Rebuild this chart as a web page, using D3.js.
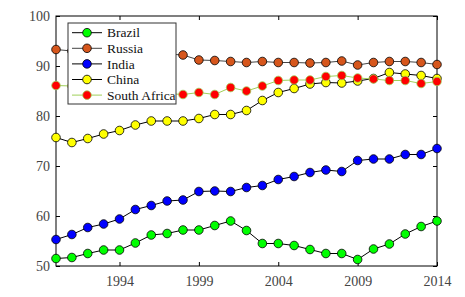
<!DOCTYPE html>
<html>
<head>
<meta charset="utf-8">
<script src="https://cdn.jsdelivr.net/npm/d3@7"></script>
<style>
  body { margin: 0; background: #fff; }
</style>
</head>
<body>
<svg id="chart"></svg>
<script>
// data
const years = d3.range(1990, 2015);
const brazil = [51.5, 51.7, 52.5, 53.2, 53.2, 54.6, 56.2, 56.5, 57.2, 57.2, 58.1, 59.0, 57.1,
  54.5, 54.5, 54.1, 53.3, 52.5, 52.5, 51.3, 53.4, 54.4, 56.4, 57.9, 59.0];
const russia = [93.3, 93.0, 92.8, 92.6, 92.5, 92.3, 92.5, 92.4, 92.2, 91.2, 91.1, 90.9, 90.7,
  90.9, 90.7, 90.7, 90.6, 90.7, 91.0, 90.2, 90.7, 90.9, 90.9, 90.7, 90.3];
const india = [55.3, 56.3, 57.7, 58.4, 59.4, 61.3, 62.1, 63.0, 63.2, 64.9, 65.0, 64.9, 65.7,
  66.1, 67.3, 67.9, 68.7, 69.2, 68.9, 71.1, 71.4, 71.4, 72.3, 72.3, 73.5];
const china = [75.7, 74.7, 75.5, 76.4, 77.1, 78.2, 79.0, 79.0, 79.0, 79.5, 80.3, 80.3, 81.1,
  83.1, 84.7, 85.5, 86.4, 86.7, 86.6, 87.0, 87.5, 88.7, 88.4, 88.1, 87.5];
const southAfrica = [86.1, 86.0, 85.8, 85.6, 85.3, 85.0, 84.8, 84.5, 84.3, 84.7, 84.3, 85.7, 85.0,
  86.0, 87.1, 87.2, 87.2, 87.9, 88.1, 87.6, 87.4, 87.1, 87.1, 86.5, 86.9];
const xTicks = [1994, 1999, 2004, 2009, 2014];
const yTicks = [50, 60, 70, 80, 90, 100];

const series = [
  { name: 'Brazil', values: brazil, fill: '#00ff00', line: '#000', edge: '#000' },
  { name: 'Russia', values: russia, fill: '#d6561c', line: '#444', edge: '#000' },
  { name: 'India', values: india, fill: '#0000ff', line: '#000', edge: '#000' },
  { name: 'China', values: china, fill: '#ffff00', line: '#000', edge: '#000' },
  { name: 'South Africa', values: southAfrica, fill: '#ff0000', line: '#9fd05a', edge: '#9fd05a' }
];

const serif = '"Liberation Serif", "Times New Roman", "DejaVu Serif", serif';

// set up constants
const width = 465;
const height = 297;
const margin = { top: 16, right: 28, bottom: 31, left: 56 };
const innerWidth = width - margin.left - margin.right;
const innerHeight = height - margin.top - margin.bottom;

const svg = d3.select('#chart')
  .attr('width', width)
  .attr('height', height);

const g = svg.append('g')
  .attr('transform', `translate(${margin.left},${margin.top})`);

// scales
const xScale = d3.scaleLinear().domain([1990, 2014]).range([0, innerWidth]);
const yScale = d3.scaleLinear().domain([50, 100]).range([innerHeight, 0]);

// axes (ticks inside, mirrored box)
const styleAxis = sel => {
  sel.attr('font-family', serif).attr('font-size', 14);
  sel.select('.domain').remove();
  sel.selectAll('line').attr('stroke', '#000');
  sel.selectAll('text').attr('fill', '#444');
};

g.append('g')
  .attr('transform', `translate(0,${innerHeight})`)
  .call(d3.axisBottom(xScale).tickValues(xTicks).tickFormat(d3.format('d'))
    .tickSizeInner(-4).tickPadding(10))
  .call(styleAxis);

g.append('g')
  .call(d3.axisTop(xScale).tickValues(xTicks).tickSizeInner(-4).tickFormat(''))
  .call(styleAxis);

g.append('g')
  .call(d3.axisLeft(yScale).tickValues(yTicks).tickSizeInner(-4).tickPadding(6))
  .call(styleAxis);

g.append('g')
  .attr('transform', `translate(${innerWidth},0)`)
  .call(d3.axisRight(yScale).tickValues(yTicks).tickSizeInner(-4).tickFormat(''))
  .call(styleAxis);

g.append('rect')
  .attr('width', innerWidth)
  .attr('height', innerHeight)
  .attr('fill', 'none')
  .attr('stroke', '#000')
  .attr('stroke-width', 1);

// lines and markers
const line = d3.line()
  .x((d, i) => xScale(years[i]))
  .y(d => yScale(d));

series.forEach(s => {
  g.append('path')
    .datum(s.values)
    .attr('fill', 'none')
    .attr('stroke', s.line)
    .attr('stroke-width', 1)
    .attr('d', line);

  g.append('g')
    .selectAll('circle')
    .data(s.values)
    .enter()
    .append('circle')
    .attr('cx', (d, i) => xScale(years[i]))
    .attr('cy', d => yScale(d))
    .attr('r', 4.3)
    .attr('fill', s.fill)
    .attr('stroke', s.edge)
    .attr('stroke-width', 0.8);
});

// legend
const legend = svg.append('g').attr('transform', 'translate(68,23)');
legend.append('rect')
  .attr('width', 108)
  .attr('height', 81)
  .attr('fill', '#fff')
  .attr('stroke', '#333')
  .attr('stroke-width', 1);

const rows = legend.selectAll('g.row')
  .data(series)
  .enter()
  .append('g')
  .attr('class', 'row')
  .attr('transform', (d, i) => `translate(0,${9.7 + i * 15.6})`);

rows.append('line')
  .attr('x1', 4).attr('x2', 34)
  .attr('stroke', d => d.line)
  .attr('stroke-width', 1);

rows.append('circle')
  .attr('cx', 19)
  .attr('r', 4.3)
  .attr('fill', d => d.fill)
  .attr('stroke', d => d.edge)
  .attr('stroke-width', 0.8);

rows.append('text')
  .attr('x', 39)
  .attr('dy', '0.35em')
  .attr('font-family', serif)
  .attr('font-size', 13.5)
  .attr('fill', '#111')
  .text(d => d.name);
</script>
</body>
</html>
